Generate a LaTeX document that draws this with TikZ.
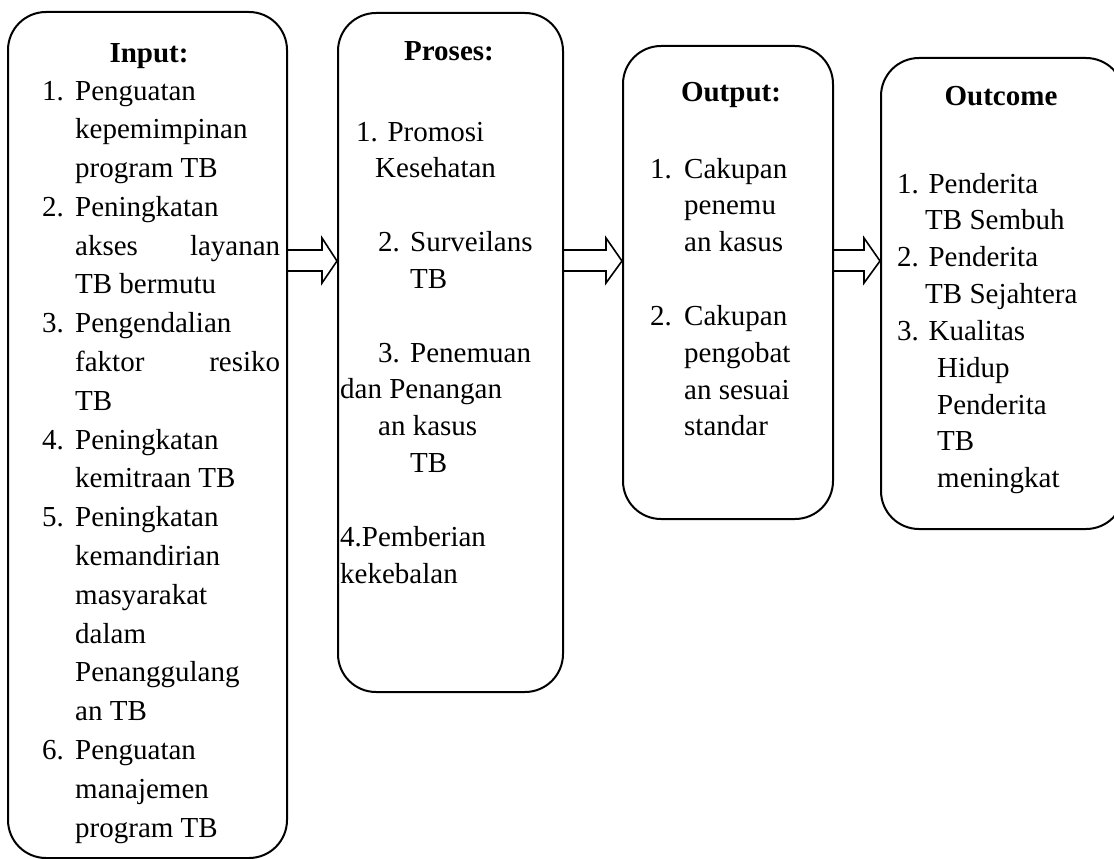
\documentclass[tikz,border=0pt]{standalone}
\usepackage{fontspec}
\setmainfont{Liberation Serif}
\usetikzlibrary{calc}
\newcommand{\fs}{\fontsize{29}{36.85}\selectfont}
\newcommand{\fsin}{\fontsize{29}{38.8}\selectfont}
\newcommand{\ind}[1]{\hspace*{#1pt}}
\begin{document}
\begin{tikzpicture}[x=1pt,y=-1pt,
  box/.style={draw, line width=2pt, rounded corners=38pt, inner sep=0pt, anchor=north west},
  arr/.style={draw, line width=1.6pt, line join=miter},
  title/.style={anchor=base, inner sep=0pt, font=\fontsize{29}{36.85}\selectfont\bfseries},
  txt/.style={anchor=base west, inner sep=0pt}]
\useasboundingbox (0,0) rectangle (1114,859);
% boxes
\node[box, minimum width=279pt, minimum height=846pt] (in) at (7,11) {};
\node[box, minimum width=225pt, minimum height=679pt] (pr) at (337,12) {};
\node[box, minimum width=210pt, minimum height=473pt] (ou) at (622,45) {};
\node[box, minimum width=243pt, minimum height=471pt] (oc) at (880,57) {};
% arrows
\coordinate (st) at (0,250);
\coordinate (sb) at (0,271);
\coordinate (ht) at (0,238);
\coordinate (hb) at (0,283);
\coordinate (tp) at (0,261);
\draw[arr] (in.east |- st) -- ($(pr.west |- st)+(-15,0)$) -- ($(pr.west |- ht)+(-15,0)$)
  -- (pr.west |- tp) -- ($(pr.west |- hb)+(-15,0)$) -- ($(pr.west |- sb)+(-15,0)$) -- (in.east |- sb);
\draw[arr] (pr.east |- st) -- ($(ou.west |- st)+(-16,0)$) -- ($(ou.west |- ht)+(-16,0)$)
  -- (ou.west |- tp) -- ($(ou.west |- hb)+(-16,0)$) -- ($(ou.west |- sb)+(-16,0)$) -- (pr.east |- sb);
\draw[arr] (ou.east |- st) -- ($(oc.west |- st)+(-16,0)$) -- ($(oc.west |- ht)+(-16,0)$)
  -- (oc.west |- tp) -- ($(oc.west |- hb)+(-16,0)$) -- ($(oc.west |- sb)+(-16,0)$) -- (ou.east |- sb);
% titles
\node[title] (tin) at (149,63) {Input:};
\node[title] (tpr) at (449,60) {Proses:};
\node[title] (tou) at (731,102) {Output:};
\node[title] (toc) at (1001,105) {Outcome};
% texts
\node[txt] (xin) at (42,100) {\parbox[t]{244pt}{\fsin
\makebox[33pt][l]{1.}Penguatan\\
\ind{33}kepemimpinan\\
\ind{33}program TB\\
\makebox[33pt][l]{2.}Peningkatan\\
\ind{33}\makebox[205pt][s]{akses layanan}\\
\ind{33}TB bermutu\\
\makebox[33pt][l]{3.}Pengendalian\\
\ind{33}\makebox[205pt][s]{faktor resiko}\\
\ind{33}TB\\
\makebox[33pt][l]{4.}Peningkatan\\
\ind{33}kemitraan TB\\
\makebox[33pt][l]{5.}Peningkatan\\
\ind{33}kemandirian\\
\ind{33}masyarakat\\
\ind{33}dalam\\
\ind{33}Penanggulang\\
\ind{33}an TB\\
\makebox[33pt][l]{6.}Penguatan\\
\ind{33}manajemen\\
\ind{33}program TB}};
\node[txt] (xpr) at (340,141) {\parbox[t]{220pt}{\fs
\ind{16}1. Promosi\\
\ind{35}Kesehatan\\
\mbox{}\\
\ind{38}\makebox[32pt][l]{2.}Surveilans\\
\ind{70}TB\\
\mbox{}\\
\ind{38}\makebox[32pt][l]{3.}Penemuan\\
dan Penangan\\
\ind{38}an kasus\\
\ind{70}TB\\
\mbox{}\\
4.Pemberian\\
kekebalan}};
\node[txt] (xou) at (650,178) {\parbox[t]{180pt}{\fs
\makebox[34pt][l]{1.}Cakupan\\
\ind{34}penemu\\
\ind{34}an kasus\\
\mbox{}\\
\makebox[34pt][l]{2.}Cakupan\\
\ind{34}pengobat\\
\ind{34}an sesuai\\
\ind{34}standar}};
\node[txt] (xoc) at (897,193) {\parbox[t]{215pt}{\fs
1. Penderita\\
\ind{28}TB Sembuh\\
2. Penderita\\
\ind{28}TB Sejahtera\\
3. Kualitas\\
\ind{40}Hidup\\
\ind{40}Penderita\\
\ind{40}TB\\
\ind{40}meningkat}};
\end{tikzpicture}
\end{document}
